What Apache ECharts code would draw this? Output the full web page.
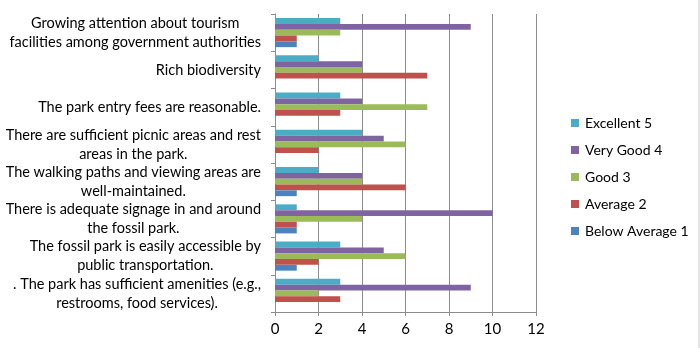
<!DOCTYPE html>
<html>
<head>
<meta charset="utf-8">
<script src="https://cdn.jsdelivr.net/npm/echarts@6/dist/echarts.min.js"></script>
<style>
  html, body { margin: 0; padding: 0; background: #fff; }
  #chart { width: 700px; height: 348px; }
</style>
</head>
<body>
<div id="chart"></div>
<script>
var categories = [
  'Growing attention about tourism\nfacilities among government authorities',
  'Rich biodiversity',
  'The park entry fees are reasonable.',
  'There are sufficient picnic areas and rest\nareas in the park.',
  'The walking paths and viewing areas are\nwell-maintained.',
  'There is adequate signage in and around\nthe fossil park.',
  'The fossil park is easily accessible by\npublic transportation.',
  '. The park has sufficient amenities (e.g.,\nrestrooms, food services).'
];
var seriesNames = ['Excellent 5', 'Very Good 4', 'Good 3', 'Average 2', 'Below Average 1'];
var excellent = [3, 2, 3, 4, 2, 1, 3, 3];
var veryGood = [9, 4, 4, 5, 4, 10, 5, 9];
var good = [3, 4, 7, 6, 4, 4, 6, 2];
var average = [1, 7, 3, 2, 6, 1, 2, 3];
var belowAverage = [1, 0, 0, 0, 1, 1, 1, 0];
var xTicks = [0, 2, 4, 6, 8, 10, 12];

(function() {
  var colors = ['#4BACC6', '#8064A2', '#9BBB59', '#C0504D', '#4F81BD'];
  var values = [excellent, veryGood, good, average, belowAverage];
  var font = 'Lato, "Open Sans", sans-serif';
  var gridColor = '#8c8c8c';

  var chart = echarts.init(document.getElementById('chart'), null, { renderer: 'canvas' });

  var series = seriesNames.map(function(name, i) {
    return {
      name: name,
      type: 'bar',
      data: values[i],
      barGap: '0%',
      barCategoryGap: '22%',
      itemStyle: { color: colors[i] },
      emphasis: { disabled: true }
    };
  });

  chart.setOption({
    animation: false,
    color: colors,
    textStyle: { fontFamily: font },
    legend: {
      data: seriesNames,
      orient: 'vertical',
      left: 566,
      top: 111,
      itemWidth: 8,
      itemHeight: 8,
      itemGap: 13,
      icon: 'rect',
      textStyle: { color: '#000', fontSize: 14, fontFamily: font, padding: [0, 0, 0, 1] }
    },
    grid: { left: 275, right: 164, top: 14, bottom: 36, containLabel: false },
    xAxis: {
      type: 'value',
      min: xTicks[0],
      max: xTicks[xTicks.length - 1],
      interval: 2,
      axisLine: { show: true, lineStyle: { color: gridColor } },
      axisTick: { show: true, length: 4, lineStyle: { color: gridColor } },
      axisLabel: { color: '#000', fontSize: 15, margin: 10, fontFamily: font },
      splitLine: { show: true, lineStyle: { color: gridColor, width: 1 } }
    },
    yAxis: {
      type: 'category',
      data: categories,
      inverse: true,
      axisLine: { show: true, lineStyle: { color: gridColor } },
      axisTick: { show: true, length: 4, lineStyle: { color: gridColor } },
      axisLabel: {
        interval: 0,
        hideOverlap: false,
        color: '#000',
        fontSize: 14.5,
        fontFamily: font,
        margin: 14,
        lineHeight: 19,
        formatter: function(v) {
          return v.split('\n').map(function(l) { return '{c|' + l + '}'; }).join('\n');
        },
        rich: { c: { align: 'center', fontSize: 14.5, lineHeight: 19, color: '#000', fontFamily: font } }
      }
    },
    graphic: [{
      type: 'line',
      shape: { x1: 699, y1: 0, x2: 699, y2: 348 },
      style: { stroke: '#c8c8c8', lineWidth: 1 }
    }],
    series: series
  });

  window.addEventListener('resize', function() { chart.resize(); });
})();
</script>
</body>
</html>
